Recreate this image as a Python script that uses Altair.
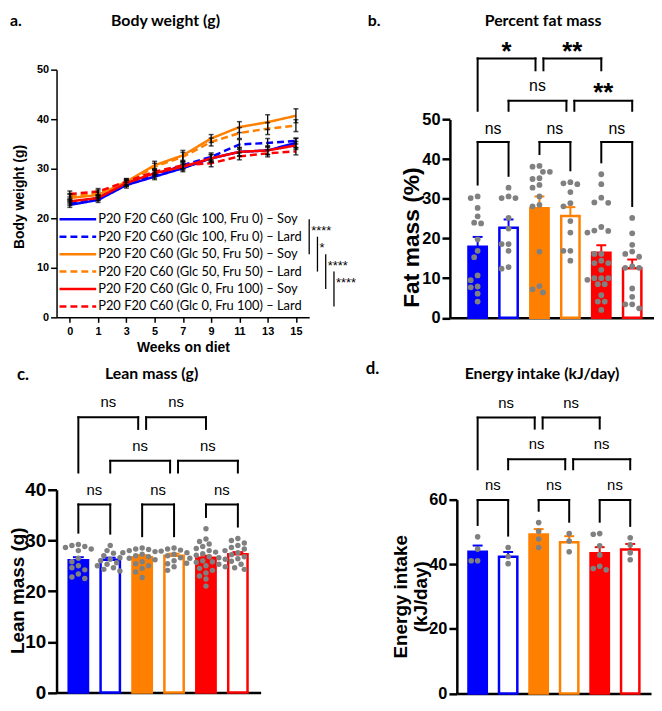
import altair as alt
import pandas as pd

W, H = 652, 695
NUM_FONT = "Liberation Sans"
TXT_FONT = "Lato"

# ---------------- categories ----------------
weeks = [0, 1, 3, 5, 7, 9, 11, 13, 15]
diets = [
    "P20 F20 C60 (Glc 100, Fru 0) – Soy",
    "P20 F20 C60 (Glc 100, Fru 0) – Lard",
    "P20 F20 C60 (Glc 50, Fru 50) – Soy",
    "P20 F20 C60 (Glc 50, Fru 50) – Lard",
    "P20 F20 C60 (Glc 0, Fru 100) – Soy",
    "P20 F20 C60 (Glc 0, Fru 100) – Lard",
]
diet_colors = ["#0000FF", "#0000FF", "#FF8000", "#FF8000", "#FF0000", "#FF0000"]
diet_dashes = [[1, 0], [7, 4], [1, 0], [7, 4], [1, 0], [7, 4]]
diet_filled = [True, False, True, False, True, False]

# ---------------- panel a: body weight (g) ----------------
bw_glc100_soy = [22.7, 23.7, 26.7, 28.4, 30.1, 32.1, 33.4, 33.7, 35.2]
bw_glc100_lard = [23.1, 24.1, 27.1, 28.7, 30.7, 32.4, 34.9, 35.2, 35.6]
bw_glc50_soy = [24.1, 24.7, 27.4, 30.7, 32.7, 36.1, 38.4, 39.4, 40.7]
bw_glc50_lard = [24.4, 25.1, 27.1, 30.4, 32.4, 35.4, 37.2, 38.1, 38.7]
bw_glc0_soy = [23.4, 24.1, 27.1, 29.1, 30.4, 32.1, 33.4, 33.7, 34.7]
bw_glc0_lard = [24.9, 25.4, 27.4, 29.4, 30.7, 31.1, 32.5, 33.1, 33.5]
bw_sem_glc100_soy = [0.5, 0.5, 0.6, 0.6, 0.7, 0.8, 0.9, 0.9, 0.9]
bw_sem_glc100_lard = [0.5, 0.5, 0.6, 0.6, 0.7, 0.8, 1.0, 0.9, 0.6]
bw_sem_glc50_soy = [0.7, 0.6, 0.6, 0.8, 1.0, 0.8, 1.1, 1.5, 1.4]
bw_sem_glc50_lard = [0.6, 0.6, 0.6, 0.7, 0.9, 0.8, 1.1, 1.2, 1.2]
bw_sem_glc0_soy = [0.5, 0.5, 0.6, 0.6, 0.7, 0.7, 0.8, 0.8, 0.8]
bw_sem_glc0_lard = [0.6, 0.6, 0.6, 0.6, 0.7, 0.7, 0.7, 0.7, 0.7]
bw_sig = [(0, 2, "****"), (1, 3, "*"), (2, 4, "****"), (3, 5, "****")]

# ---------------- panel b: percent fat mass ----------------
fat_mean = [17.9, 22.7, 27.6, 25.7, 16.4, 12.5]
fat_sem = [2.5, 2.1, 3.0, 2.2, 1.9, 2.2]
fat_glc100_soy = [30.6, 30.2, 27.7, 25.6, 24.0, 23.8, 19.8, 16.9, 15.3, 10.7, 9.5, 7.9, 7.7, 6.1, 4.1]
fat_glc100_lard = [32.8, 30.6, 30.2, 30.2, 25.2, 22.5, 18.6, 18.6, 16.9, 12.8, 12.4]
fat_glc50_soy = [38.3, 38.1, 36.8, 36.8, 35.2, 35.0, 33.5, 32.8, 30.6, 28.5, 28.1, 16.7, 8.0, 7.2, 6.4]
fat_glc50_lard = [34.2, 33.9, 33.7, 31.7, 28.9, 28.1, 24.4, 21.5, 16.9, 16.9, 14.4]
fat_glc0_soy = [36.2, 33.7, 30.3, 29.1, 29.0, 22.9, 22.0, 21.9, 21.5, 16.1, 16.1, 14.4, 13.8, 13.8,
                12.1, 10.0, 10.0, 10.0, 9.6, 8.5, 8.5, 5.7, 4.1, 4.1, 2.0]
fat_glc0_lard = [25.2, 21.3, 18.4, 16.7, 16.1, 15.4, 13.0, 12.6, 12.6, 7.4, 5.3, 3.4, 3.4, 2.4]
fat_comps = [(1, 0, 1, "ns"), (1, 2, 3, "ns"), (1, 4, 5, "ns"),
             (2, 1, 3, "ns"), (2, 3, 5, "**"),
             (3, 0, 2, "*"), (3, 2, 4, "**")]

# ---------------- panel c: lean mass (g) ----------------
lean_mean = [26.1, 26.2, 26.7, 27.0, 26.6, 27.3]
lean_sem = [0.6, 0.4, 0.4, 0.4, 0.4, 0.4]
lean_glc100_soy = [29.2, 29.0, 28.8, 28.6, 28.3, 28.0, 26.5, 25.8, 25.0, 24.6, 24.2, 23.4, 22.8, 22.5]
lean_glc100_lard = [29.0, 28.0, 27.5, 27.0, 26.6, 26.3, 26.0, 25.6, 25.3, 25.0, 24.6, 24.3, 24.0]
lean_glc50_soy = [28.5, 28.3, 28.2, 28.0, 27.8, 27.6, 27.3, 27.0, 26.8, 26.5, 26.2, 25.8, 25.4, 25.0,
                  24.5, 23.8, 22.7]
lean_glc50_lard = [28.5, 28.3, 28.1, 27.9, 27.6, 27.3, 27.0, 26.6, 26.0, 25.4, 24.8, 24.1]
lean_glc0_soy = [32.3, 30.3, 29.8, 29.3, 28.8, 28.4, 28.0, 27.7, 27.4, 27.1, 26.8, 26.6, 26.5, 26.3,
                 26.0, 25.8, 25.7, 25.5, 25.3, 25.0, 24.8, 24.5, 24.1, 23.6, 23.0, 22.4, 21.0]
lean_glc0_lard = [30.4, 30.0, 29.5, 29.0, 28.6, 28.3, 28.0, 27.6, 27.2, 26.8, 26.4, 25.9, 25.3, 24.6, 24.3]
lean_comps = [(1, 0, 1, "ns"), (1, 2, 3, "ns"), (1, 4, 5, "ns"),
              (2, 1, 3, "ns"), (2, 3, 5, "ns"),
              (3, 0, 2, "ns"), (3, 2, 4, "ns")]

# ---------------- panel d: energy intake (kJ/day) ----------------
energy_mean = [43.9, 42.3, 49.2, 46.8, 43.4, 44.6]
energy_sem = [1.9, 1.5, 1.7, 1.9, 1.9, 1.7]
energy_glc100_soy = [48.5, 44.7, 41.1, 41.1]
energy_glc100_lard = [45.2, 42.4, 40.2]
energy_glc50_soy = [52.9, 50.2, 47.8, 45.2]
energy_glc50_lard = [49.5, 47.2, 43.9]
energy_glc0_soy = [49.5, 49.3, 45.7, 42.9, 39.4, 38.7, 38.3]
energy_glc0_lard = [48.2, 46.0, 43.6, 41.4]
energy_comps = [(1, 0, 1, "ns"), (1, 2, 3, "ns"), (1, 4, 5, "ns"),
                (2, 1, 3, "ns"), (2, 3, 5, "ns"),
                (3, 0, 2, "ns"), (3, 2, 4, "ns")]

# ---------------- shared scales ----------------
color_scale = alt.Scale(domain=diets, range=diet_colors)
dash_scale = alt.Scale(domain=diets, range=diet_dashes)


# ---------------- panel a ----------------
def panel_a():
    means = [bw_glc100_soy, bw_glc100_lard, bw_glc50_soy, bw_glc50_lard, bw_glc0_soy, bw_glc0_lard]
    sems = [bw_sem_glc100_soy, bw_sem_glc100_lard, bw_sem_glc50_soy, bw_sem_glc50_lard,
            bw_sem_glc0_soy, bw_sem_glc0_lard]
    rows = []
    for d, m, s in zip(diets, means, sems):
        for w, mv, sv in zip(weeks, m, s):
            rows.append(dict(diet=d, week=w, mean=mv, lo=mv - sv, hi=mv + sv))
    df = pd.DataFrame(rows)
    xs = alt.Scale(type="point", domain=weeks, range=[49, 304], padding=0.47)
    ys = alt.Scale(domain=[0, 50], range=[309, 59], nice=False, zero=False)
    xaxis = alt.Axis(orient="bottom", offset=309 - H, labelAngle=0, grid=False, tickSize=5, tickWidth=1.5,
                     tickColor="black", domainColor="black", domainWidth=1.5, labelFont=NUM_FONT,
                     labelFontWeight="bold", labelFontSize=11, labelColor="black", labelPadding=3,
                     title="Weeks on diet", titleFont=NUM_FONT, titleFontWeight="bold", titleFontSize=14,
                     titleColor="black", titleY=30, titleBaseline="middle")
    yaxis = alt.Axis(orient="left", offset=-49, values=[0, 10, 20, 30, 40, 50], grid=False, tickSize=6,
                     tickWidth=1.5, tickColor="black", domainColor="black", domainWidth=1.5,
                     labelFont=NUM_FONT, labelFontWeight="bold", labelFontSize=11, labelColor="black",
                     labelPadding=2, title="Body weight (g)", titleFont=NUM_FONT, titleFontWeight="bold",
                     titleFontSize=14, titleColor="black", titleX=-37, titleY=187, titleAngle=270,
                     titleBaseline="middle", titleAlign="center")
    X = lambda f: alt.X(f, scale=xs, axis=xaxis)
    base = alt.Chart(df)
    lines = base.mark_line(strokeWidth=2.5).encode(
        x=X("week:O"), y=alt.Y("mean:Q", scale=ys, axis=yaxis),
        color=alt.Color("diet:N", scale=color_scale, legend=None),
        strokeDash=alt.StrokeDash("diet:N", scale=dash_scale, legend=None))
    err = base.mark_rule(strokeWidth=1.3, color="black").encode(
        x=X("week:O"), y=alt.Y("lo:Q", scale=ys, axis=yaxis), y2="hi:Q")
    cap_hi = base.mark_tick(size=5, thickness=1.5, color="black").encode(
        x=X("week:O"), y=alt.Y("hi:Q", scale=ys, axis=yaxis))
    cap_lo = base.mark_tick(size=5, thickness=1.5, color="black").encode(
        x=X("week:O"), y=alt.Y("lo:Q", scale=ys, axis=yaxis))
    return alt.layer(lines, err, cap_hi, cap_lo)


def legend_a():
    ldf = pd.DataFrame(dict(diet=diets, row=list(range(len(diets)))))
    sdf = pd.DataFrame([dict(col=i, r0=a, r1=b, rmid=a + 0.5, label=t) for i, (a, b, t) in enumerate(bw_sig)])
    ly = alt.Scale(domain=[0, 5], range=[210, 298], nice=False, zero=False)
    lx = alt.Scale(domain=[0, 3], range=[304, 329], nice=False, zero=False)
    sym = alt.Chart(ldf).mark_rule(strokeWidth=2.5).encode(
        x=alt.value(52), x2=alt.value(89), y=alt.Y("row:Q", scale=ly, axis=None),
        color=alt.Color("diet:N", scale=color_scale, legend=None),
        strokeDash=alt.StrokeDash("diet:N", scale=dash_scale, legend=None))
    txt = alt.Chart(ldf).mark_text(align="left", baseline="middle", font=TXT_FONT, fontSize=13,
                                   color="black").encode(
        x=alt.value(91), y=alt.Y("row:Q", scale=ly, axis=None), text="diet:N")
    sl = alt.Chart(sdf).mark_rule(strokeWidth=1.3, color="black").encode(
        x=alt.X("col:Q", scale=lx, axis=None), y=alt.Y("r0:Q", scale=ly, axis=None), y2="r1:Q")
    st = alt.Chart(sdf).mark_text(align="left", baseline="alphabetic", dx=2, dy=7, font=NUM_FONT,
                                  fontSize=13, color="black").encode(
        x=alt.X("col:Q", scale=lx, axis=None), y=alt.Y("rmid:Q", scale=ly, axis=None), text="label:N")
    return alt.layer(sym, txt, sl, st)


# ---------------- bar panels ----------------
def swarm(vals, ppu, dot_d):
    placed, offs = [], [0.0] * len(vals)
    cands = [0.0]
    for k in range(1, 10):
        cands += [-k * dot_d / 2, k * dot_d / 2]
    for i in sorted(range(len(vals)), key=lambda j: -vals[j]):
        y = vals[i] * ppu
        for c in cands:
            if all((c - px) ** 2 + (y - py) ** 2 >= (dot_d * 0.92) ** 2 for px, py in placed):
                placed.append((c, y))
                offs[i] = c
                break
    return offs


def bar_panel(means, sems, dots, comps, P):
    step, x0 = P["step"], P["x0"]
    xl, xr = P["xrange"]
    xs = alt.Scale(domain=[(xl - x0) / step, (xr - x0) / step], range=[xl, xr], nice=False, zero=False)
    ys = alt.Scale(domain=[0, P["ymax"]], range=[P["y0"], P["ytop"]], nice=False, zero=False)
    ppu = (P["y0"] - P["ytop"]) / P["ymax"]
    xaxis = alt.Axis(orient="bottom", offset=P["y0"] - H, labels=False, ticks=False, grid=False, title=None,
                     domainColor="black", domainWidth=P["lw"])
    yaxis = alt.Axis(orient="left", offset=-xl, values=P["ticks"], grid=False, tickSize=P["tick"],
                     tickWidth=P["lw"], tickColor="black", domainColor="black", domainWidth=P["lw"],
                     labelFont=NUM_FONT, labelFontWeight="bold", labelFontSize=P["lab"], labelColor="black",
                     labelPadding=2, title=P["title"], titleFont=NUM_FONT, titleFontWeight="bold",
                     titleFontSize=P["tsize"], titleColor="black", titleX=P["tx"], titleY=P["ty"],
                     titleAngle=270, titleBaseline="middle", titleAlign="center",
                     titleLineHeight=P["tsize"] + 1)
    X = lambda f: alt.X(f, scale=xs, axis=xaxis)
    Y = lambda f: alt.Y(f, scale=ys, axis=yaxis)
    hw = P["barw"] / 2 / step
    cw = P["capw"] / 2 / step
    brows, drows = [], []
    tops = []
    for i, d in enumerate(diets):
        brows.append(dict(diet=d, idx=i, left=i - hw, right=i + hw, mean=means[i], base=0,
                          top=means[i] + sems[i], cl=i - cw, cr=i + cw, filled=diet_filled[i]))
        offs = swarm(dots[i], ppu, P["dotd"])
        for v, o in zip(dots[i], offs):
            drows.append(dict(diet=d, xpos=i + o / step, val=v))
        tops.append(max(max(dots[i]), means[i] + sems[i]))
    bdf = pd.DataFrame(brows)
    ddf = pd.DataFrame(drows)

    # brackets
    lv = P["levels"]
    gap = P["gap"] / step
    segs, labs = [], []
    for (k, a, b, t) in comps:
        xa = a + (gap if any(k2 == k and b2 == a for (k2, a2, b2, _) in comps) else 0)
        xb = b - (gap if any(k2 == k and a2 == b for (k2, a2, b2, _) in comps) else 0)
        h = lv[k - 1][0]

        def leg(g):
            if k == 1:
                return tops[g] + P["pad"] / ppu
            covered = any(2 <= k2 < k and a2 <= g <= b2 for (k2, a2, b2, _) in comps)
            if k >= 3 and not covered:
                return lv[k - 2][1]
            return lv[k - 1][1]

        segs.append(dict(x=xa, x2=xb, y=h, y2=h))
        segs.append(dict(x=xa, x2=xa, y=h, y2=leg(a)))
        segs.append(dict(x=xb, x2=xb, y=h, y2=leg(b)))
        labs.append(dict(x=(xa + xb) / 2, y=lv[k - 1][2], label=t, star=t.startswith("*")))
    sdf = pd.DataFrame(segs)
    ldf = pd.DataFrame(labs)

    fb = alt.Chart(bdf).transform_filter("datum.filled").mark_bar(strokeWidth=2.5).encode(
        x=X("left:Q"), x2="right:Q", y=Y("mean:Q"), y2="base:Q",
        fill=alt.Fill("diet:N", scale=color_scale, legend=None),
        stroke=alt.Stroke("diet:N", scale=color_scale, legend=None))
    ob = alt.Chart(bdf).transform_filter("!datum.filled").mark_bar(strokeWidth=2.5, fill="white").encode(
        x=X("left:Q"), x2="right:Q", y=Y("mean:Q"), y2="base:Q",
        stroke=alt.Stroke("diet:N", scale=color_scale, legend=None))
    eb = alt.Chart(bdf).mark_rule(strokeWidth=2).encode(
        x=X("idx:Q"), y=Y("mean:Q"), y2="top:Q",
        color=alt.Color("diet:N", scale=color_scale, legend=None))
    cap = alt.Chart(bdf).mark_rule(strokeWidth=2).encode(
        x=X("cl:Q"), x2="cr:Q", y=Y("top:Q"),
        color=alt.Color("diet:N", scale=color_scale, legend=None))
    dots_l = alt.Chart(ddf).mark_circle(size=P["dotsize"], color="#808080", opacity=1).encode(
        x=X("xpos:Q"), y=Y("val:Q"))
    br = alt.Chart(sdf).mark_rule(strokeWidth=2, color="black", strokeCap="square").encode(
        x=X("x:Q"), x2="x2:Q", y=Y("y:Q"), y2="y2:Q")
    ns = alt.Chart(ldf).transform_filter("!datum.star").mark_text(
        font=NUM_FONT, fontSize=P["nsize"], baseline="middle", color="black").encode(
        x=X("x:Q"), y=Y("y:Q"), text="label:N")
    layers = [fb, ob, eb, cap, dots_l, br, ns]
    if ldf["star"].any():
        st = alt.Chart(ldf).transform_filter("datum.star").mark_text(
            font=NUM_FONT, fontSize=26, fontWeight="bold", baseline="alphabetic", dy=15,
            color="black").encode(x=X("x:Q"), y=Y("y:Q"), text="label:N")
        layers.append(st)
    return alt.layer(*layers)


P_b = dict(step=31.2, x0=474, xrange=(446, 652), ymax=50, y0=309.5, ytop=109.3, barw=18.5, capw=10,
           lw=2.5, tick=8, lab=16.5, ticks=[0, 10, 20, 30, 40, 50], title="Fat mass (%)", tsize=23,
           tx=-38.5, ty=228, dotd=7, dotsize=34, pad=12, gap=4, nsize=16,
           levels=[(44.3, None, 47.6), (54.7, 52.2, 58.5), (65.4, 62.4, 68.7)])
P_c = dict(step=32.2, x0=71, xrange=(49, 255), ymax=40, y0=687.7, ytop=483, barw=19.5, capw=11,
           lw=2.5, tick=9, lab=19, ticks=[0, 10, 20, 30, 40], title="Lean mass (g)", tsize=19,
           tx=-39, ty=584.5, dotd=6.5, dotsize=30, pad=12, gap=4, nsize=15,
           levels=[(37.1, None, 40.0), (45.7, 43.4, 48.6), (54.3, 52.0, 57.2)])
P_d = dict(step=30.8, x0=474, xrange=(453, 649), ymax=60, y0=688.7, ytop=493, barw=18.5, capw=10,
           lw=2.5, tick=8, lab=16.5, ticks=[0, 20, 40, 60], title=["Energy intake", "(kJ/day)"], tsize=19,
           tx=-57, ty=590.5, dotd=6.5, dotsize=32, pad=12, gap=4, nsize=15,
           levels=[(59.9, None, 64.5), (72.5, 69.4, 77.1), (85.4, 82.0, 89.8)])

pb = bar_panel(fat_mean, fat_sem,
               [fat_glc100_soy, fat_glc100_lard, fat_glc50_soy, fat_glc50_lard, fat_glc0_soy, fat_glc0_lard],
               fat_comps, P_b)
pc = bar_panel(lean_mean, lean_sem,
               [lean_glc100_soy, lean_glc100_lard, lean_glc50_soy, lean_glc50_lard, lean_glc0_soy,
                lean_glc0_lard], lean_comps, P_c)
pd_ = bar_panel(energy_mean, energy_sem,
                [energy_glc100_soy, energy_glc100_lard, energy_glc50_soy, energy_glc50_lard,
                 energy_glc0_soy, energy_glc0_lard], energy_comps, P_d)


def label(txt, x, y, size, align="center"):
    return alt.Chart(pd.DataFrame({"t": [txt]})).mark_text(
        x=x, y=y, align=align, baseline="alphabetic", font=TXT_FONT, fontWeight="bold",
        fontSize=size, color="black").encode(text="t:N")


titles = [
    label("a.", 2, 15, 16, "left"),
    label("Body weight (g)", 159, 15, 16),
    label("b.", 363, 15, 16, "left"),
    label("Percent fat mass", 540, 15, 16),
    label("c.", 9, 372, 17, "left"),
    label("Lean mass (g)", 145, 371, 16),
    label("d.", 361, 366, 17, "left"),
    label("Energy intake (kJ/day)", 539, 371, 16),
]

chart = alt.layer(panel_a(), legend_a(), pb, pc, pd_, *titles).resolve_scale(
    x="independent", y="independent"
).properties(
    width=W, height=H, padding=0, autosize=alt.AutoSizeParams(type="none"), background="white"
).configure_view(stroke=None)

chart.save("out.html", embed_options={"renderer": "svg", "actions": False})
